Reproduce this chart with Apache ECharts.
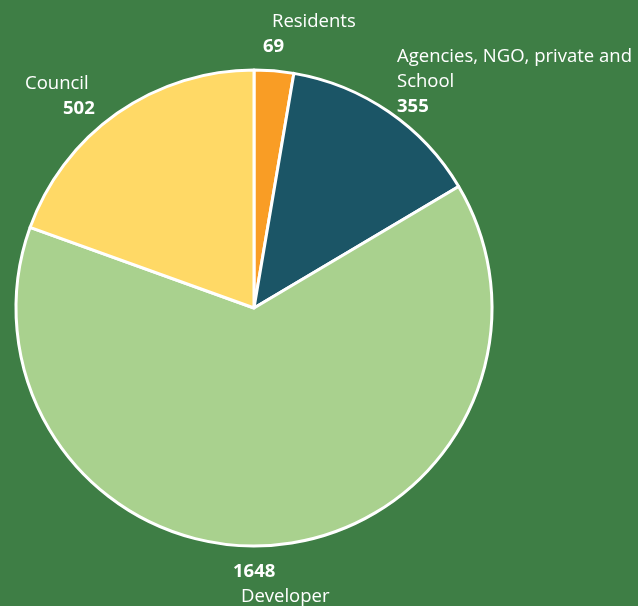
<!DOCTYPE html>
<html><head><meta charset="utf-8">
<script src="https://cdn.jsdelivr.net/npm/echarts@6/dist/echarts.min.js"></script>
<style>html,body{margin:0;padding:0;background:#3e7e45;}#c{width:638px;height:606px;}</style>
</head><body><div id="c"></div>
<script>
const categories = ['Residents', 'Agencies, NGO, private and School', 'Developer', 'Council'];
const labelLines = [['Residents'], ['Agencies, NGO, private and', 'School'], ['Developer'], ['Council']];
const values = [69, 355, 1648, 502];
const colors = ['#f99d25', '#1b5566', '#a9d18e', '#ffd966'];
// label anchor (left/top) per slice, and whether value sits above name
const labelPos = [[263, 9], [397, 44], [233, 559], [25, 71]];
const valueFirst = [false, false, true, false];

const chart = echarts.init(document.getElementById('c'), null, {renderer: 'canvas'});
const font = '"Open Sans", sans-serif';
const fs = 18.5;
const lh = 25;
chart.setOption({
  backgroundColor: '#3e7e45',
  animation: false,
  series: [{
    type: 'pie',
    center: [254, 308],
    radius: 238,
    startAngle: 90,
    clockwise: true,
    itemStyle: {borderColor: '#ffffff', borderWidth: 3},
    label: {
      show: true,
      position: 'outside',
      overflow: 'none',
      width: 400,
      formatter: function (p) {
        const i = p.dataIndex;
        const names = labelLines[i].map(function (s) { return '{' + (i === 0 ? 'r' : (i === 2 ? 'd' : 'n')) + '|' + s + '}'; });
        const val = '{' + (i === 3 ? 'vc' : 'v') + '|' + p.value + '}';
        return valueFirst[i] ? [val].concat(names).join('\n') : names.concat([val]).join('\n');
      },
      rich: {
        n: {color: '#ffffff', fontSize: fs, fontFamily: font, lineHeight: lh},
        r: {color: '#ffffff', fontSize: fs, fontFamily: font, lineHeight: lh, padding: [0, 0, 0, 9]},
        d: {color: '#ffffff', fontSize: fs, fontFamily: font, lineHeight: lh, padding: [0, 0, 0, 8]},
        v: {color: '#ffffff', fontSize: fs, fontWeight: 'bold', fontFamily: font, lineHeight: lh},
        vc: {color: '#ffffff', fontSize: fs, fontWeight: 'bold', fontFamily: font, lineHeight: lh, padding: [0, 0, 0, 38]}
      }
    },
    labelLine: {show: false},
    labelLayout: function (params) {
      const pos = labelPos[params.dataIndex];
      return {x: pos[0], y: pos[1], align: 'left', verticalAlign: 'top', hideOverlap: false};
    },
    data: categories.map(function (c, i) {
      return {name: c, value: values[i], itemStyle: {color: colors[i]}};
    })
  }]
});
</script></body></html>
